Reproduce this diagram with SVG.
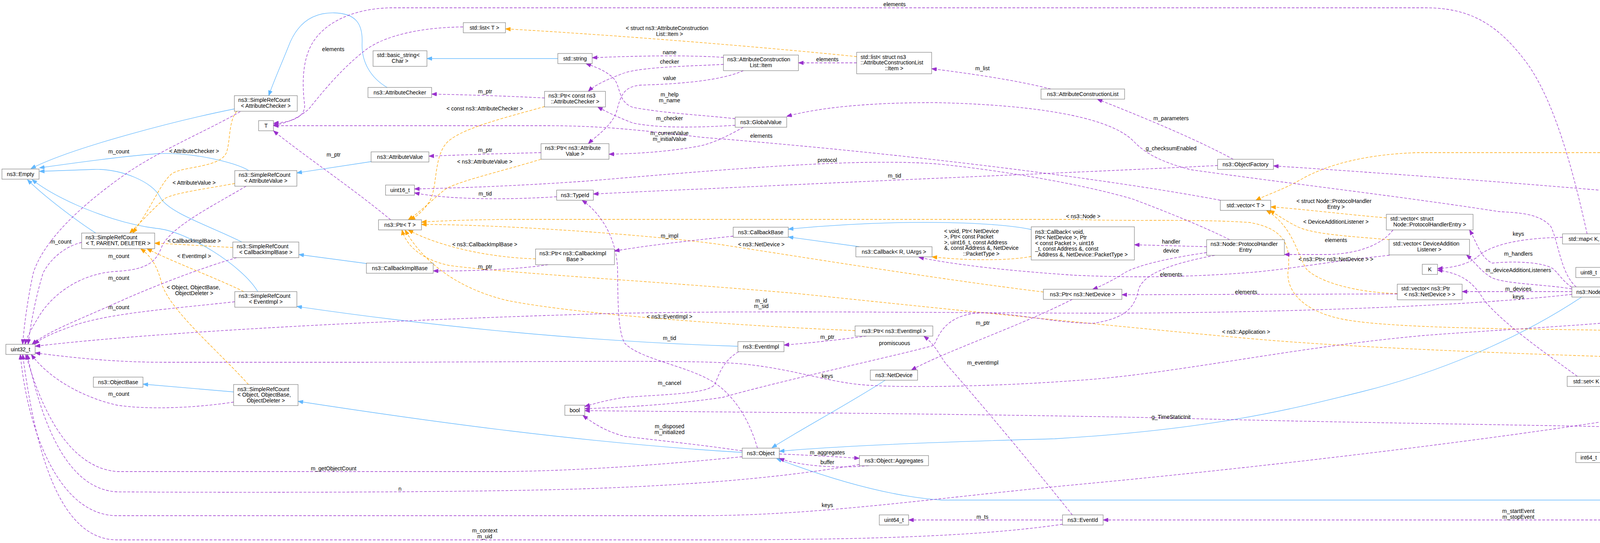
<svg xmlns="http://www.w3.org/2000/svg" width="5573" height="1391" viewBox="0 0 5573 1391">
<style>
.nd rect{fill:#fff;stroke:#666;stroke-width:1}
.nd.main rect{fill:#999}
text{font-family:"Liberation Sans",Arial,Helvetica,sans-serif;font-size:14px;fill:#000}
.c{text-anchor:middle}
.u{fill:none;stroke:#9a32cd;stroke-width:1.3;stroke-dasharray:7,4;marker-end:url(#au)}
.t{fill:none;stroke:#ffa500;stroke-width:1.3;stroke-dasharray:7,4;marker-end:url(#at)}
.i{fill:none;stroke:#63b8ff;stroke-width:1.3;marker-end:url(#ai)}
</style>
<defs>
<marker id="au" viewBox="0 0 13 10" refX="13" refY="5" markerWidth="13" markerHeight="10" markerUnits="userSpaceOnUse" orient="auto"><path d="M0,0 L13,5 L0,10 z" fill="#9a32cd" stroke="#9a32cd" stroke-dasharray="none"/></marker>
<marker id="at" viewBox="0 0 13 10" refX="13" refY="5" markerWidth="13" markerHeight="10" markerUnits="userSpaceOnUse" orient="auto"><path d="M0,0 L13,5 L0,10 z" fill="#ffa500" stroke="#ffa500" stroke-dasharray="none"/></marker>
<marker id="ai" viewBox="0 0 13 10" refX="13" refY="5" markerWidth="13" markerHeight="10" markerUnits="userSpaceOnUse" orient="auto"><path d="M0,0 L13,5 L0,10 z" fill="#63b8ff" stroke="#63b8ff"/></marker>
</defs>
<rect x="0" y="0" width="5573" height="1391" fill="#fff"/>
<g id="connectors">
<path class="i" d="M600,279 C470,305 190,375 79,432"/>
<path class="i" d="M637,437 C600,414 480,388 400,394 C300,401 160,422 101,430"/>
<path class="i" d="M245,597 C200,568 115,505 70,460"/>
<path class="i" d="M619,620 C540,580 430,545 410,505 C390,465 310,432 240,434 C180,436 130,438 101,439"/>
<path class="i" d="M660,747 C620,680 480,592 400,585 C320,575 250,548 200,527 C150,505 110,482 82,460"/>
<path class="i" d="M598,1004 L366,984"/>
<path class="i" d="M991,224 C950,200 925,160 927,110 C929,60 910,34 855,33 C800,32 760,60 738,120 C718,170 700,210 688,245"/>
<path class="i" d="M950,414 L760,443"/>
<path class="i" d="M938,675 L765,652"/>
<path class="i" d="M1888,887 C1500,875 1100,835 760,785"/>
<path class="i" d="M1900,1159 C1500,1135 1100,1080 763,1028"/>
<path class="i" d="M1428,150 L1093,150"/>
<path class="i" d="M2200,632 L2018,607"/>
<path class="i" d="M2640,588 C2550,568 2300,560 2018,587"/>
<path class="i" d="M2266,974 C2180,1030 2050,1100 1976,1147"/>
<path class="i" d="M4049,761 C3900,860 3700,950 3488,1003 C3300,1050 3100,1100 2700,1124 C2400,1132 2150,1142 1995,1156"/>
<path class="i" d="M4763,1113 C4700,1200 4600,1278 4440,1281 L2410,1281 C2250,1270 2080,1210 1988,1175"/>
<path class="i" d="M5123,663 L4864,679"/>
<path class="t" d="M606,285 C585,310 590,360 580,390 C565,430 470,425 440,445 C410,470 395,520 340,597"/>
<path class="t" d="M601,470 C520,485 440,495 420,510 C392,535 362,568 332,597"/>
<path class="t" d="M596,634 C520,630 450,625 396,623"/>
<path class="t" d="M624,747 C560,715 440,670 376,637"/>
<path class="t" d="M636,985 C560,900 440,800 415,730 C405,690 392,660 360,637"/>
<path class="t" d="M2193,145 C1900,115 1500,85 1294,74"/>
<path class="t" d="M1394,273 C1300,300 1170,330 1140,370 C1110,410 1120,480 1100,515 C1085,540 1066,555 1050,563"/>
<path class="t" d="M1385,408 C1280,440 1170,465 1140,485 C1110,508 1080,540 1045,563"/>
<path class="t" d="M1371,663 C1250,660 1120,630 1045,589"/>
<path class="t" d="M2189,847 C1800,830 1450,800 1300,770 C1150,735 1070,650 1037,589"/>
<path class="t" d="M2671,748 C2400,715 2000,650 1848,627 C1700,605 1300,575 1079,575"/>
<path class="t" d="M4408,799 C4340,840 4280,850 4200,848 C4000,842 3600,845 3450,820 C3330,800 3290,740 3298,690 C3305,620 3280,585 3200,570 C3050,560 2900,568 2750,562 L1300,562 C1200,563 1120,566 1079,569"/>
<path class="t" d="M5079,926 L4500,926 C4000,910 3500,895 3185,866 C2900,840 2500,800 2042,752 C1700,722 1300,700 1150,680 C1080,665 1040,630 1029,589"/>
<path class="t" d="M2640,657 C2580,668 2480,668 2386,658"/>
<path class="t" d="M3549,558 C3450,550 3330,535 3253,530"/>
<path class="t" d="M3557,614 C3450,605 3360,600 3320,580 C3290,565 3270,550 3250,539"/>
<path class="t" d="M3577,752 C3480,750 3380,725 3345,690 C3320,650 3310,580 3242,539"/>
<path class="t" d="M5443,475 C5380,430 5280,392 5190,391 L3630,391 C3500,395 3400,420 3330,460 C3280,488 3240,500 3215,513"/>
<path class="t" d="M4370,709 C4300,690 4180,660 4098,625"/>
<path class="t" d="M4676,603 C4600,596 4400,590 4134,603"/>
<path class="t" d="M4701,739 C4620,710 4520,690 4450,668 C4350,640 4230,625 4134,616"/>
<path class="t" d="M4356,977 L4121,977"/>
<path class="u" d="M615,286 C520,340 420,380 330,440 C200,530 110,620 85,700 C72,760 62,830 58,882"/>
<path class="u" d="M630,477 C540,530 440,580 415,630 C400,670 380,690 300,695 C200,700 130,760 100,810 C82,840 70,860 64,882"/>
<path class="u" d="M209,621 C170,630 130,660 110,700 C92,760 80,820 72,882"/>
<path class="u" d="M606,660 C520,685 400,730 300,775 C200,820 120,850 82,882"/>
<path class="u" d="M601,773 C450,790 300,800 200,830 C150,848 110,862 88,882"/>
<path class="u" d="M598,1030 C500,1045 380,1050 300,1038 C220,1020 130,975 80,908"/>
<path class="u" d="M1185,69 C1080,70 990,90 940,125 C880,170 830,230 790,280 C760,305 730,317 700,320"/>
<path class="u" d="M3124,513 C2900,470 2400,400 1800,352 C1650,335 1550,322 1400,322 L700,322"/>
<path class="u" d="M4063,599 C4030,450 3980,250 3900,150 C3830,60 3760,20 3650,20 L1000,20 C900,22 830,60 800,110 C770,160 775,230 780,270 C780,300 750,312 700,316"/>
<path class="u" d="M1000,563 C900,480 780,400 700,335"/>
<path class="u" d="M1852,147 C1750,140 1600,144 1516,148"/>
<path class="u" d="M1852,165 C1750,170 1630,172 1590,190 C1550,205 1520,220 1506,234"/>
<path class="u" d="M1903,181 C1850,205 1750,215 1640,218 C1600,222 1590,240 1580,280 C1570,320 1530,345 1506,368"/>
<path class="u" d="M1882,304 C1800,295 1700,290 1620,275 C1580,260 1590,220 1570,200 C1550,180 1520,170 1500,163"/>
<path class="u" d="M1882,321 C1800,326 1690,330 1620,315 C1580,300 1550,285 1530,274"/>
<path class="u" d="M1903,326 C1860,350 1820,370 1780,376 C1700,390 1620,394 1559,395"/>
<path class="u" d="M1394,251 C1300,246 1200,243 1105,241"/>
<path class="u" d="M1385,391 C1300,393 1200,396 1098,400"/>
<path class="u" d="M1425,504 C1300,512 1150,512 1061,494"/>
<path class="u" d="M3117,424 C2800,440 2300,460 1800,484 C1700,488 1600,493 1519,497"/>
<path class="u" d="M3148,614 C3080,580 2980,540 2900,510 C2800,480 2600,440 2400,420 C2200,405 1900,430 1500,464 C1300,478 1150,482 1061,484"/>
<path class="u" d="M3157,408 C3050,350 2900,290 2809,254"/>
<path class="u" d="M2690,228 C2600,205 2480,188 2385,176"/>
<path class="u" d="M2193,161 L2044,161"/>
<path class="u" d="M1403,678 C1330,690 1200,695 1109,694"/>
<path class="u" d="M1877,605 C1750,618 1650,630 1573,643"/>
<path class="u" d="M2218,861 C2150,870 2080,878 2007,884"/>
<path class="u" d="M3089,632 L2904,627"/>
<path class="u" d="M3089,647 C3000,660 2900,680 2870,705 C2840,722 2815,735 2797,741"/>
<path class="u" d="M3566,589 C3540,625 3480,650 3400,652 L3288,652"/>
<path class="u" d="M3577,753 L2872,755"/>
<path class="u" d="M3557,654 C3400,670 3300,690 3200,698 C3050,710 2900,712 2750,705 C2600,695 2450,680 2352,659"/>
<path class="u" d="M4024,747 L3743,747"/>
<path class="u" d="M4024,736 C4000,720 3990,700 3975,688 C3950,672 3880,668 3820,674 C3790,660 3780,620 3762,589"/>
<path class="u" d="M4024,740 C3950,728 3860,728 3820,712 C3790,695 3775,670 3754,653"/>
<path class="u" d="M4035,735 C3995,700 3990,620 3970,580 C3940,545 3880,545 3837,542 C3600,505 3300,470 3050,435 C2950,410 2920,380 2900,360 C2850,310 2700,270 2400,263 C2200,262 2080,280 2014,298"/>
<path class="u" d="M4111,748 C4200,745 4290,745 4305,720 C4320,690 4300,620 4310,570 C4330,500 4420,473 4500,470 C4700,450 5000,450 5397,484"/>
<path class="u" d="M4349,788 C4250,788 4160,780 4111,761"/>
<path class="u" d="M4357,722 C4250,712 4170,706 4100,701"/>
<path class="u" d="M4676,616 C4600,630 4570,650 4560,680 C4550,700 4530,706 4508,710"/>
<path class="u" d="M4698,648 C4660,680 4610,720 4570,745 C4550,760 4530,768 4515,773"/>
<path class="u" d="M4701,770 C4640,775 4570,780 4516,782"/>
<path class="u" d="M4700,788 C4640,820 4580,850 4540,880 C4500,910 4470,935 4450,964"/>
<path class="u" d="M5123,653 C5050,645 4960,638 4878,632"/>
<path class="u" d="M5136,671 C5100,690 4960,725 4854,746"/>
<path class="u" d="M5143,646 C5050,600 4900,570 4700,545 C4400,510 3800,460 3260,425"/>
<path class="u" d="M5468,515 C5420,600 5360,700 5320,780 C5280,850 5220,890 5195,913"/>
<path class="u" d="M5150,939 C5050,990 4900,1050 4811,1087"/>
<path class="u" d="M4760,1087 C4700,1000 4600,920 4540,880 C4490,845 4465,820 4449,799"/>
<path class="u" d="M4714,1100 L4475,1100"/>
<path class="u" d="M4770,1113 C4760,1200 4700,1330 4535,1336 C4450,1333 4400,1332 4300,1332 L2824,1332"/>
<path class="u" d="M4390,1112 C4250,1140 4150,1155 4100,1166"/>
<path class="u" d="M4395,1087 C4300,1050 4180,1010 4110,990"/>
<path class="u" d="M4038,964 C3950,900 3850,830 3800,770 C3770,720 3740,700 3680,692"/>
<path class="u" d="M4000,608 C3880,610 3810,630 3780,660 C3750,680 3715,686 3680,688"/>
<path class="u" d="M4390,1100 C4100,1090 3500,1085 3000,1071 C2500,1060 1800,1055 1497,1052"/>
<path class="u" d="M1891,901 C1850,925 1840,960 1830,985 C1810,1010 1700,1010 1600,1018 C1550,1025 1520,1035 1497,1041"/>
<path class="u" d="M1900,1155 C1800,1140 1700,1130 1600,1118 C1550,1105 1520,1085 1492,1064"/>
<path class="u" d="M3110,654 C3000,675 2930,700 2915,740 C2905,790 2880,815 2800,828 C2700,830 2550,790 2480,805 C2410,820 2400,870 2390,885 C2300,910 2000,975 1850,1018 C1700,1040 1550,1045 1497,1047"/>
<path class="u" d="M1939,1148 C1920,1080 1880,1010 1820,975 C1750,935 1640,920 1600,880 C1580,850 1582,750 1581,690 C1578,600 1530,540 1490,513"/>
<path class="u" d="M1995,1163 C2070,1166 2140,1170 2200,1174"/>
<path class="u" d="M2224,1193 C2150,1200 2050,1195 1995,1174"/>
<path class="u" d="M2200,1190 C2050,1215 1850,1240 1500,1252 C1200,1262 600,1262 300,1260 C200,1255 120,1150 70,908"/>
<path class="u" d="M1900,1170 C1700,1190 1500,1205 1300,1208 L300,1208 C200,1200 120,1100 66,908"/>
<path class="u" d="M2720,1343 C2500,1375 2200,1383 1800,1383 L300,1383 C150,1383 90,1150 58,908"/>
<path class="u" d="M4405,990 C4350,1030 4300,1050 4200,1065 C3800,1130 3200,1200 2750,1242 C2400,1275 2100,1320 1800,1321 L300,1321 C150,1321 70,1100 52,908"/>
<path class="u" d="M4357,744 C4320,755 4310,800 4280,808 C4150,830 3900,840 3650,859 C3300,890 3000,960 2750,975 C2550,990 2300,995 2200,985 C2100,975 2000,935 1850,929 C1700,922 1300,928 900,928 L420,928 C300,928 200,918 90,904"/>
<path class="u" d="M4024,754 C3800,780 3300,805 2700,802 C2300,800 1800,795 1500,805 C1000,820 400,850 90,887"/>
<path class="u" d="M2720,1332 L2326,1332"/>
<path class="u" d="M2745,1319 C2650,1200 2500,1020 2420,930 C2400,900 2390,880 2365,861"/>
<path class="u" d="M2745,767 C2600,840 2420,900 2333,948"/>
</g>
<g id="edge-labels">
<text class="c" x="853" y="131">elements</text>
<text class="c" x="854" y="401">m_ptr</text>
<text class="c" x="304" y="393">m_count</text>
<text class="c" x="497" y="392">&lt; AttributeChecker &gt;</text>
<text class="c" x="497" y="473">&lt; AttributeValue &gt;</text>
<text class="c" x="156" y="624">m_count</text>
<text class="c" x="497" y="622">&lt; CallbackImplBase &gt;</text>
<text class="c" x="304" y="661">m_count</text>
<text class="c" x="497" y="661">&lt; EventImpl &gt;</text>
<text class="c" x="304" y="717">m_count</text>
<text x="427" y="741">&lt; Object, ObjectBase,</text>
<text class="c" x="497" y="755.5">ObjectDeleter &gt;</text>
<text class="c" x="304" y="792">m_count</text>
<text class="c" x="304" y="1014">m_count</text>
<text class="c" x="854" y="1205">m_getObjectCount</text>
<text x="1602" y="77">&lt; struct ns3::AttributeConstruction</text>
<text class="c" x="1714" y="92">List::Item &gt;</text>
<text class="c" x="1714" y="139">name</text>
<text class="c" x="1714" y="163">checker</text>
<text class="c" x="1714" y="205">value</text>
<text class="c" x="1714" y="247">m_help</text>
<text class="c" x="1714" y="262">m_name</text>
<text class="c" x="1714" y="308">m_checker</text>
<text class="c" x="1714" y="346">m_currentValue</text>
<text class="c" x="1714" y="360.5">m_initialValue</text>
<text class="c" x="1242" y="239">m_ptr</text>
<text class="c" x="1241" y="283">&lt; const ns3::AttributeChecker &gt;</text>
<text class="c" x="1242" y="389">m_ptr</text>
<text class="c" x="1241" y="419">&lt; ns3::AttributeValue &gt;</text>
<text class="c" x="1242" y="501">m_tid</text>
<text class="c" x="1714" y="609">m_impl</text>
<text class="c" x="1241" y="631">&lt; ns3::CallbackImplBase &gt;</text>
<text class="c" x="1242" y="688">m_ptr</text>
<text class="c" x="1714" y="816">&lt; ns3::EventImpl &gt;</text>
<text class="c" x="1714" y="871">m_tid</text>
<text class="c" x="1714" y="986">m_cancel</text>
<text class="c" x="1714" y="1097">m_disposed</text>
<text class="c" x="1714" y="1112">m_initialized</text>
<text class="c" x="1024" y="1257">n</text>
<text class="c" x="1241" y="1364">m_context</text>
<text class="c" x="1241" y="1379">m_uid</text>
<text class="c" x="2290" y="16">elements</text>
<text class="c" x="2118" y="157">elements</text>
<text class="c" x="2515" y="180">m_list</text>
<text class="c" x="1949" y="353">elements</text>
<text class="c" x="2118" y="415">protocol</text>
<text class="c" x="2290" y="455">m_tid</text>
<text class="c" x="1949" y="631">&lt; ns3::NetDevice &gt;</text>
<text x="2417" y="596.5">&lt; void, Ptr&lt; NetDevice</text>
<text x="2417" y="611">&gt;, Ptr&lt; const Packet</text>
<text x="2417" y="625.5">&gt;, uint16_t, const Address</text>
<text x="2417" y="640">&amp;, const Address &amp;, NetDevice</text>
<text class="c" x="2512" y="655">::PacketType &gt;</text>
<text class="c" x="2773" y="559">&lt; ns3::Node &gt;</text>
<text class="c" x="1949" y="775">m_id</text>
<text class="c" x="1949" y="789">m_sid</text>
<text class="c" x="2516" y="832">m_ptr</text>
<text class="c" x="2118" y="868">m_ptr</text>
<text class="c" x="2290" y="884">promiscuous</text>
<text class="c" x="2516" y="934">m_eventImpl</text>
<text class="c" x="2118" y="968">keys</text>
<text class="c" x="2118" y="1164">m_aggregates</text>
<text class="c" x="2118" y="1189">buffer</text>
<text class="c" x="2118" y="1299">keys</text>
<text class="c" x="2515" y="1328.5">m_ts</text>
<text class="c" x="2998" y="308">m_parameters</text>
<text class="c" x="2998" y="385">g_checksumEnabled</text>
<text x="3319" y="520">&lt; struct Node::ProtocolHandler</text>
<text class="c" x="3420" y="535">Entry &gt;</text>
<text class="c" x="3420" y="573">&lt; DeviceAdditionListener &gt;</text>
<text class="c" x="2998" y="624">handler</text>
<text class="c" x="2998" y="647">device</text>
<text class="c" x="3420" y="620">elements</text>
<text class="c" x="3420" y="669">&lt; ns3::Ptr&lt; ns3::NetDevice &gt; &gt;</text>
<text class="c" x="2998" y="707.5">elements</text>
<text class="c" x="3190" y="753">elements</text>
<text class="c" x="3190" y="855">&lt; ns3::Application &gt;</text>
<text class="c" x="2998" y="1073">g_TimeStaticInit</text>
<text class="c" x="4434" y="387.6">&lt; ns3::Ptr&lt; ns3::Application &gt; &gt;</text>
<text class="c" x="4230" y="488.5">m_factory</text>
<text x="4363" y="560">&lt; ns3::Ptr&lt; ns3::Node</text>
<text x="4363" y="575">&gt;, std::map&lt; uint32</text>
<text class="c" x="4431" y="589">_t, uint8_t &gt; &gt;</text>
<text x="4353" y="625.5">&lt; ns3::Ptr&lt; ns3::Node</text>
<text class="c" x="4434" y="640">&gt;, std::set&lt; uint32_t &gt; &gt;</text>
<text class="c" x="4230" y="648">&lt; uint32_t, uint8_t &gt;</text>
<text class="c" x="3887" y="604">keys</text>
<text class="c" x="3887" y="655">m_handlers</text>
<text class="c" x="3887" y="697">m_deviceAdditionListeners</text>
<text class="c" x="4230" y="701">elements</text>
<text class="c" x="3887" y="744.6">m_devices</text>
<text class="c" x="3887" y="765">keys</text>
<text class="c" x="4230" y="773">m_ptr</text>
<text class="c" x="4230" y="973.5">&lt; uint32_t &gt;</text>
<text class="c" x="4230" y="1007.5">g_markingTimes</text>
<text class="c" x="4230" y="1129">m_data</text>
<text class="c" x="3887" y="1314">m_startEvent</text>
<text class="c" x="3887" y="1328.5">m_stopEvent</text>
<text class="c" x="4778" y="449">m_applications</text>
<text class="c" x="4610" y="615">elements</text>
<text class="c" x="4980" y="631">m_interfaceMetrics</text>
<text class="c" x="4610" y="672">keys</text>
<text class="c" x="4980" y="694">m_interfaceExclusions</text>
<text class="c" x="5342" y="657">elements</text>
<text class="c" x="4610" y="771">keys</text>
<text class="c" x="4610" y="803.6">elements</text>
<text class="c" x="4610" y="913">m_node</text>
<text class="c" x="4980" y="980.7">m_ptr</text>
<text class="c" x="4610" y="1081">m_startTime</text>
<text class="c" x="4610" y="1096.5">m_stopTime</text>
</g>
<g id="n_empty" class="nd"><rect x="5" y="433" width="95" height="26"/><text class="c" x="52.5" y="451">ns3::Empty</text></g>
<g id="n_uint32" class="nd"><rect x="15" y="882" width="75" height="26"/><text class="c" x="52.5" y="900">uint32_t</text></g>
<g id="n_objectbase" class="nd"><rect x="239" y="966" width="127" height="26"/><text class="c" x="302.5" y="984">ns3::ObjectBase</text></g>
<g id="n_src_tpd" class="nd"><rect x="209" y="597" width="187" height="40"/><text x="219" y="613">ns3::SimpleRefCount</text><text class="c" x="302.5" y="627.5">&lt; T, PARENT, DELETER &gt;</text></g>
<g id="n_src_ac" class="nd"><rect x="600" y="245" width="161" height="40"/><text x="610" y="261">ns3::SimpleRefCount</text><text class="c" x="680.5" y="275.5">&lt; AttributeChecker &gt;</text></g>
<g id="n_T" class="nd"><rect x="662" y="309" width="38" height="26"/><text class="c" x="681" y="327">T</text></g>
<g id="n_src_av" class="nd"><rect x="601" y="437" width="159" height="40"/><text x="611" y="453">ns3::SimpleRefCount</text><text class="c" x="680.5" y="467.5">&lt; AttributeValue &gt;</text></g>
<g id="n_src_cib" class="nd"><rect x="596" y="620" width="169" height="40"/><text x="606" y="636">ns3::SimpleRefCount</text><text class="c" x="680.5" y="650.5">&lt; CallbackImplBase &gt;</text></g>
<g id="n_src_ei" class="nd"><rect x="601" y="747" width="159" height="40"/><text x="611" y="763">ns3::SimpleRefCount</text><text class="c" x="680.5" y="777.5">&lt; EventImpl &gt;</text></g>
<g id="n_src_obj" class="nd"><rect x="598" y="985" width="165" height="54"/><text x="608" y="1001.5">ns3::SimpleRefCount</text><text x="608" y="1016">&lt; Object, ObjectBase,</text><text class="c" x="680.5" y="1030.5">ObjectDeleter &gt;</text></g>
<g id="n_list_t" class="nd"><rect x="1186" y="58" width="108" height="26"/><text class="c" x="1240" y="76">std::list&lt; T &gt;</text></g>
<g id="n_basic_string" class="nd"><rect x="955" y="130" width="138" height="40"/><text x="965" y="146">std::basic_string&lt;</text><text class="c" x="1024" y="160.5">Char &gt;</text></g>
<g id="n_string" class="nd"><rect x="1428" y="137" width="88" height="26"/><text class="c" x="1472" y="155">std::string</text></g>
<g id="n_attrchecker" class="nd"><rect x="942" y="224" width="163" height="26"/><text class="c" x="1023.5" y="242">ns3::AttributeChecker</text></g>
<g id="n_ptr_cac" class="nd"><rect x="1394" y="234" width="156" height="40"/><text x="1404" y="250">ns3::Ptr&lt; const ns3</text><text class="c" x="1472" y="264.5">::AttributeChecker &gt;</text></g>
<g id="n_attrvalue" class="nd"><rect x="950" y="389" width="148" height="26"/><text class="c" x="1024" y="407">ns3::AttributeValue</text></g>
<g id="n_ptr_av" class="nd"><rect x="1385" y="368" width="174" height="40"/><text x="1395" y="384">ns3::Ptr&lt; ns3::Attribute</text><text class="c" x="1472" y="398.5">Value &gt;</text></g>
<g id="n_uint16" class="nd"><rect x="987" y="474" width="74" height="26"/><text class="c" x="1024" y="492">uint16_t</text></g>
<g id="n_typeid" class="nd"><rect x="1425" y="487" width="94" height="26"/><text class="c" x="1472" y="505">ns3::TypeId</text></g>
<g id="n_ptr_t" class="nd"><rect x="969" y="563" width="110" height="26"/><text class="c" x="1024" y="581">ns3::Ptr&lt; T &gt;</text></g>
<g id="n_ptr_cib" class="nd"><rect x="1371" y="638" width="202" height="40"/><text x="1381" y="654">ns3::Ptr&lt; ns3::CallbackImpl</text><text class="c" x="1472" y="668.5">Base &gt;</text></g>
<g id="n_cib" class="nd"><rect x="938" y="674" width="171" height="26"/><text class="c" x="1023.5" y="692">ns3::CallbackImplBase</text></g>
<g id="n_bool" class="nd"><rect x="1446" y="1038" width="51" height="26"/><text class="c" x="1471.5" y="1056">bool</text></g>
<g id="n_acl_item" class="nd"><rect x="1852" y="141" width="192" height="40"/><text x="1862" y="157">ns3::AttributeConstruction</text><text class="c" x="1948" y="171.5">List::Item</text></g>
<g id="n_list_item" class="nd"><rect x="2193" y="134" width="192" height="55"/><text x="2203" y="150.5">std::list&lt; struct ns3</text><text x="2203" y="165">::AttributeConstructionList</text><text class="c" x="2289" y="179.5">::Item &gt;</text></g>
<g id="n_globalvalue" class="nd"><rect x="1882" y="300" width="132" height="26"/><text class="c" x="1948" y="318">ns3::GlobalValue</text></g>
<g id="n_acl" class="nd"><rect x="2665" y="228" width="214" height="26"/><text class="c" x="2772" y="246">ns3::AttributeConstructionList</text></g>
<g id="n_callbackbase" class="nd"><rect x="1877" y="582" width="141" height="26"/><text class="c" x="1947.5" y="600">ns3::CallbackBase</text></g>
<g id="n_callback_ru" class="nd"><rect x="2191" y="632" width="195" height="26"/><text class="c" x="2288.5" y="650">ns3::Callback&lt; R, UArgs &gt;</text></g>
<g id="n_callback_void" class="nd"><rect x="2640" y="581" width="264" height="85"/><text x="2650" y="598.5">ns3::Callback&lt; void,</text><text x="2650" y="613">Ptr&lt; NetDevice &gt;, Ptr</text><text x="2650" y="627.5">&lt; const Packet &gt;, uint16</text><text x="2650" y="642">_t, const Address &amp;, const</text><text class="c" x="2772" y="656.5">Address &amp;, NetDevice::PacketType &gt;</text></g>
<g id="n_ptr_ei" class="nd"><rect x="2189" y="835" width="199" height="26"/><text class="c" x="2288.5" y="853">ns3::Ptr&lt; ns3::EventImpl &gt;</text></g>
<g id="n_eventimpl" class="nd"><rect x="1889" y="875" width="118" height="26"/><text class="c" x="1948" y="893">ns3::EventImpl</text></g>
<g id="n_netdevice" class="nd"><rect x="2228" y="948" width="121" height="26"/><text class="c" x="2288.5" y="966">ns3::NetDevice</text></g>
<g id="n_object" class="nd"><rect x="1900" y="1148" width="95" height="26"/><text class="c" x="1947.5" y="1166">ns3::Object</text></g>
<g id="n_aggregates" class="nd"><rect x="2200" y="1167" width="177" height="26"/><text class="c" x="2288.5" y="1185">ns3::Object::Aggregates</text></g>
<g id="n_uint64" class="nd"><rect x="2251" y="1319" width="75" height="26"/><text class="c" x="2288.5" y="1337">uint64_t</text></g>
<g id="n_ptr_nd" class="nd"><rect x="2671" y="741" width="201" height="26"/><text class="c" x="2771.5" y="759">ns3::Ptr&lt; ns3::NetDevice &gt;</text></g>
<g id="n_eventid" class="nd"><rect x="2720" y="1319" width="104" height="26"/><text class="c" x="2772" y="1337">ns3::EventId</text></g>
<g id="n_objectfactory" class="nd"><rect x="3117" y="408" width="143" height="26"/><text class="c" x="3188.5" y="426">ns3::ObjectFactory</text></g>
<g id="n_vector_t" class="nd"><rect x="3124" y="513" width="129" height="26"/><text class="c" x="3188.5" y="531">std::vector&lt; T &gt;</text></g>
<g id="n_phe" class="nd"><rect x="3089" y="614" width="199" height="40"/><text x="3099" y="630">ns3::Node::ProtocolHandler</text><text class="c" x="3188.5" y="644.5">Entry</text></g>
<g id="n_vector_phe" class="nd"><rect x="3549" y="549" width="222" height="40"/><text x="3559" y="565">std::vector&lt; struct</text><text class="c" x="3660" y="579.5">Node::ProtocolHandlerEntry &gt;</text></g>
<g id="n_vector_dal" class="nd"><rect x="3556" y="613" width="206" height="40"/><text x="3566" y="629">std::vector&lt; DeviceAddition</text><text class="c" x="3659" y="643.5">Listener &gt;</text></g>
<g id="n_vector_pnd" class="nd"><rect x="3577" y="728" width="166" height="40"/><text x="3587" y="744">std::vector&lt; ns3::Ptr</text><text class="c" x="3660" y="758.5">&lt; ns3::NetDevice &gt; &gt;</text></g>
<g id="n_map_kt" class="nd"><rect x="4000" y="599" width="134" height="26"/><text class="c" x="4067" y="617">std::map&lt; K, T &gt;</text></g>
<g id="n_K" class="nd"><rect x="3641" y="677" width="39" height="26"/><text class="c" x="3660.5" y="695">K</text></g>
<g id="n_uint8" class="nd"><rect x="4034" y="685" width="66" height="26"/><text class="c" x="4067" y="703">uint8_t</text></g>
<g id="n_node" class="nd"><rect x="4024" y="735" width="87" height="26"/><text class="c" x="4067.5" y="753">ns3::Node</text></g>
<g id="n_map_u32u8" class="nd"><rect x="4357" y="709" width="151" height="40"/><text x="4367" y="725">std::map&lt; uint32_t,</text><text class="c" x="4432.5" y="739.5">uint8_t &gt;</text></g>
<g id="n_ptr_node" class="nd"><rect x="4349" y="773" width="167" height="26"/><text class="c" x="4432.5" y="791">ns3::Ptr&lt; ns3::Node &gt;</text></g>
<g id="n_set_k" class="nd"><rect x="4012" y="964" width="109" height="26"/><text class="c" x="4066.5" y="982">std::set&lt; K &gt;</text></g>
<g id="n_set_u32" class="nd"><rect x="4356" y="964" width="153" height="26"/><text class="c" x="4432.5" y="982">std::set&lt; uint32_t &gt;</text></g>
<g id="n_time" class="nd"><rect x="4390" y="1087" width="85" height="26"/><text class="c" x="4432.5" y="1105">ns3::Time</text></g>
<g id="n_int64" class="nd"><rect x="4034" y="1159" width="66" height="26"/><text class="c" x="4067" y="1177">int64_t</text></g>
<g id="n_map_pn_map" class="nd"><rect x="4676" y="594" width="202" height="54"/><text x="4686" y="610.5">std::map&lt; ns3::Ptr</text><text x="4686" y="625">&lt; ns3::Node &gt;, std::</text><text class="c" x="4777" y="639.5">map&lt; uint32_t, uint8_t &gt; &gt;</text></g>
<g id="n_ipv4rh" class="nd"><rect x="4690" y="673" width="174" height="26"/><text class="c" x="4777" y="691">ns3::Ipv4RoutingHelper</text></g>
<g id="n_riphelper" class="nd main"><rect x="5123" y="646" width="116" height="25"/><text class="c" x="5181" y="663.5">ns3::RipHelper</text></g>
<g id="n_vector_papp" class="nd"><rect x="5397" y="475" width="171" height="40"/><text x="5407" y="491">std::vector&lt; ns3::Ptr</text><text class="c" x="5482.5" y="505.5">&lt; ns3::Application &gt; &gt;</text></g>
<g id="n_map_pn_set" class="nd"><rect x="4701" y="738" width="153" height="54"/><text x="4711" y="754.5">std::map&lt; ns3::Ptr</text><text x="4711" y="769">&lt; ns3::Node &gt;, std::</text><text class="c" x="4777.5" y="783.5">set&lt; uint32_t &gt; &gt;</text></g>
<g id="n_ptr_app" class="nd"><rect x="5079" y="913" width="204" height="26"/><text class="c" x="5181" y="931">ns3::Ptr&lt; ns3::Application &gt;</text></g>
<g id="n_application" class="nd"><rect x="4714" y="1087" width="126" height="26"/><text class="c" x="4777" y="1105">ns3::Application</text></g>
</svg>
